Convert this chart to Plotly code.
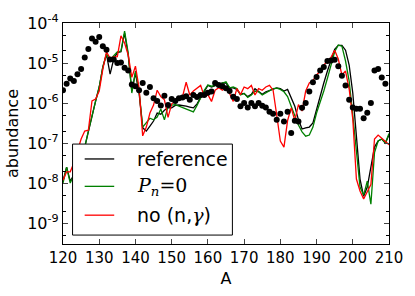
import plotly.graph_objects as go

# Mass numbers
mass_lines = list(range(120, 211))
mass_dots = list(range(120, 210))

# log10(abundance)
log_reference = [
    -7.95, -7.6, -7.95, -7.8, -7.6, -7.3, -7.1, -6.7, -6.3, -5.95,
    -5.6, -5.1, -4.78, -5.28, -4.9, -4.74, -4.72, -4.25, -4.8, -5.7,
    -5.25, -5.75, -6.62, -6.7, -6.58, -6.45, -6.25, -6.28, -6.18, -6.12,
    -6.12, -6.06, -6.05, -6.06, -6.08, -6.1, -6.12, -6.02, -5.86, -5.7,
    -5.56, -5.6, -5.56, -5.52, -5.5, -5.5, -5.62, -5.62, -5.66, -5.78,
    -5.76, -5.84, -5.78, -5.64, -5.72, -5.78, -5.72, -5.68, -5.64, -5.62,
    -5.64, -5.7, -5.66, -5.88, -6.08, -6.42, -6.65, -6.62, -6.6, -6.5,
    -6.15, -5.85, -5.5, -5.2, -4.95, -4.66, -4.56, -4.56, -4.68, -5.05,
    -5.75, -6.8, -7.9, -8.33, -8.1, -7.6, -7.1, -6.95, -6.9, -7.0,
    -6.8,
]
log_pn0 = [
    -8.0, -7.6, -8.0, -7.8, -7.6, -7.3, -7.1, -6.7, -6.3, -5.95,
    -5.6, -5.1, -4.78, -4.92, -4.82, -4.72, -4.7, -4.2, -4.75, -5.75,
    -5.2, -5.7, -6.6, -6.5, -6.38, -6.42, -6.35, -6.15, -6.42, -6.08,
    -6.05, -6.04, -6.08, -6.12, -6.16, -6.18, -6.22, -6.06, -5.85, -5.68,
    -5.55, -5.58, -5.56, -5.52, -5.5, -5.47, -5.62, -5.6, -5.64, -5.8,
    -5.76, -5.86, -5.8, -5.7, -5.72, -5.8, -5.74, -5.7, -5.64, -5.63,
    -5.66, -5.72, -5.84, -6.08, -6.32, -6.55, -6.72, -6.83, -6.8, -6.6,
    -6.25, -6.0, -5.7, -5.38, -5.05, -4.72, -4.55, -4.58, -4.95, -5.45,
    -6.3, -7.3, -8.1, -8.3, -7.95, -8.53, -7.24, -6.95, -6.9, -7.0,
    -6.76,
]
log_no_ng = [
    -7.93, -7.72, -7.72, -7.5, -7.2, -6.9, -6.7, -6.68, -5.95, -5.9,
    -5.7, -5.15, -4.72, -4.88, -4.85, -4.84, -4.32, -4.5, -4.8, -5.36,
    -5.08, -5.62, -6.82, -6.6, -6.25, -6.05, -5.68, -5.84, -5.92, -6.36,
    -6.02, -5.96, -5.9, -5.84, -5.48, -5.8, -5.7, -5.64, -5.56, -5.84,
    -5.79, -5.96, -5.68, -5.62, -5.68, -5.6, -5.76, -5.96, -5.64, -5.79,
    -5.6, -5.64, -5.56, -5.8, -5.64, -5.68, -5.6, -5.56, -5.68, -6.3,
    -6.95, -7.1, -6.44, -6.12, -6.44, -6.04, -6.2, -5.7, -5.5, -5.44,
    -5.3, -5.2, -5.05, -4.95, -4.86, -4.68, -4.9, -5.3, -5.2, -5.65,
    -6.4, -7.9, -8.2, -8.4, -8.2, -8.04, -6.9, -6.8, -6.88, -6.95,
    -7.04,
]
log_solar = [
    -5.68, -5.52, -5.39, -5.45, -5.28, -5.15, -4.86, -4.65, -4.39, -4.47,
    -4.35, -4.58, -4.67, -4.91, -4.91, -5.0, -4.99, -5.12, -5.19, -5.54,
    -5.58, -5.68, -5.5, -5.74, -5.6, -5.88, -5.95, -6.06, -5.82, -6.05,
    -5.9, -5.95, -5.88, -5.86, -5.83, -5.92, -5.8, -5.85, -5.8, -5.8,
    -5.74, -5.71, -5.5, -5.55, -5.58, -5.63, -5.7, -5.84, -5.9, -6.08,
    -6.0, -6.11, -6.0, -6.08, -6.0, -6.07, -6.11, -6.22, -6.27, -6.42,
    -6.27, -6.46, -6.22, -6.75, -6.44, -6.46, -6.12, -6.0, -5.71, -5.48,
    -5.35, -5.19, -5.1, -4.95, -4.94, -4.92, -5.08, -5.32, -5.56, -5.92,
    -6.11, -6.14, -6.14, -6.38, -6.24, -6.0, -5.19, -5.15, -5.36, -5.52,
]

series_names = ["reference", "P_n=0", "no (n,γ)"]
series_colors = ["#000000", "#008000", "#ff0000"]
y_tick_exponents = [-9, -8, -7, -6, -5, -4]
x_tick_values = list(range(120, 211, 10))


def to_abund(vals):
    return [10 ** v for v in vals]


fig = go.Figure()
for name, vals, col in zip(series_names, [log_reference, log_pn0, log_no_ng], series_colors):
    fig.add_trace(go.Scatter(
        x=mass_lines, y=to_abund(vals), mode="lines", name=name,
        line=dict(color=col, width=1.3), showlegend=False,
    ))
fig.add_trace(go.Scatter(
    x=mass_dots, y=to_abund(log_solar), mode="markers", name="solar r",
    marker=dict(color="black", size=6), showlegend=False,
))

# legend drawn in paper coordinates
L, R, T, B = 63, 394, 15, 245
def px(x):
    return (x - L) / (R - L)
def py(y):
    return (B - y) / (B - T)

shapes = [dict(type="rect", xref="paper", yref="paper",
               x0=px(72.7), x1=px(235), y0=py(235.7), y1=py(141),
               fillcolor="white", line=dict(color="black", width=1), layer="above")]
rows = [156.5, 185, 215]
labels = ["reference",
          "<span style='font-family:DejaVu Serif'><i>P</i><sub><i>n</i></sub>=0</span>",
          "no (n,<span style='font-family:DejaVu Serif'><i>γ</i></span>)"]
annotations = []
for yrow, col, lab in zip(rows, series_colors, labels):
    shapes.append(dict(type="line", xref="paper", yref="paper",
                       x0=px(85), x1=px(115), y0=py(yrow), y1=py(yrow),
                       line=dict(color=col, width=1.3), layer="above"))
    annotations.append(dict(xref="paper", yref="paper", x=px(136), y=py(yrow),
                            xanchor="left", yanchor="middle", showarrow=False,
                            text=lab, font=dict(size=19, color="black",
                                                family="DejaVu Sans")))

fig.update_layout(
    width=415, height=296,
    margin=dict(l=L, r=415 - R, t=T, b=296 - B),
    paper_bgcolor="white", plot_bgcolor="white",
    font=dict(family="DejaVu Sans", color="black"),
    shapes=shapes, annotations=annotations,
    showlegend=False,
)
fig.update_xaxes(
    range=[120, 210], tickvals=x_tick_values, ticks="inside", ticklen=5,
    showline=True, linecolor="black", linewidth=1.2, mirror="ticks",
    showgrid=False, zeroline=False, tickfont=dict(size=15),
    title=dict(text="A", font=dict(size=16), standoff=6),
)
fig.update_yaxes(
    type="log", range=[-9.523, -4],
    tickvals=[10 ** e for e in y_tick_exponents],
    ticktext=["10<sup>%d</sup>" % e for e in y_tick_exponents],
    ticks="inside", ticklen=5,
    minor=dict(ticks="inside", ticklen=3, tickcolor="black", showgrid=False),
    showline=True, linecolor="black", linewidth=1.2, mirror="ticks",
    showgrid=False, zeroline=False, tickfont=dict(size=16),
    title=dict(text="abundance", font=dict(size=16), standoff=4),
)
fig.write_html("out.html", config={"displayModeBar": False},
               post_script="document.body.style.margin='0';")
